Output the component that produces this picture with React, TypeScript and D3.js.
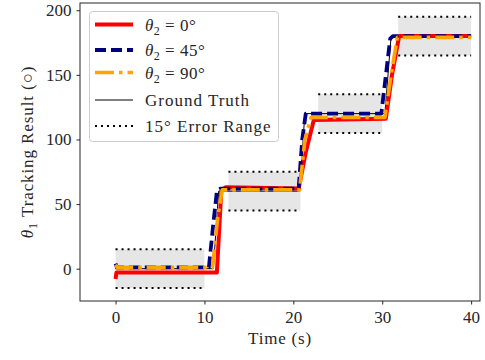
import React, { useEffect, useRef } from 'react';
import * as d3 from 'd3';

// time (s) and angle (deg) key points
const redT = [0, 0.1, 11.4, 11.9, 12.4, 20.6, 21.4, 22.3, 30.4, 31.1, 31.9, 40];
const redV = [-8, -3, -3, 61, 63, 62, 90, 115, 116, 150, 180, 180];

const blueT = [0, 0.15, 10.5, 11.0, 11.4, 11.8, 20.6, 21.0, 21.4, 29.9, 30.5, 30.9, 31.2, 40];
const blueV = [4, 1, 1, 35, 60, 62, 62, 100, 120, 120, 155, 178, 180, 180];

const orangeT = [0, 0.2, 10.9, 11.5, 12.0, 20.7, 21.3, 22.0, 30.3, 31.0, 31.7, 40];
const orangeV = [3, 1, 1, 40, 61, 61, 100, 117, 117, 150, 179, 179];

const truthT = [0, 11.0, 11.6, 20.7, 21.3, 30.3, 31.0, 40];
const truthV = [0, 0, 60, 60, 120, 120, 180, 180];

// 15 degree error bands
const bandStart = [0, 12.7, 22.8, 31.8];
const bandEnd = [10, 20.8, 30, 40];
const bandCenter = [0, 60, 120, 180];

const xTicks = [0, 10, 20, 30, 40];
const yTicks = [0, 50, 100, 150, 200];

const App = () => {
  const svgRef = useRef<SVGSVGElement>(null);

  useEffect(() => {
    const width = 485;
    const height = 360;
    const margin = { top: 3, right: 5, bottom: 59, left: 80 };
    const font = '"Liberation Serif", serif';
    const ink = '#262626';

    const svg = d3.select(svgRef.current)
      .attr('width', width)
      .attr('height', height);
    svg.selectAll('*').remove();

    const x = d3.scaleLinear().domain([-4, 41]).range([margin.left, width - margin.right]);
    const y = d3.scaleLinear().domain([-25, 205.6]).range([height - margin.bottom, margin.top]);

    const g = svg.append('g');

    // bands
    bandStart.forEach((s, i) => {
      const e = bandEnd[i];
      const c = bandCenter[i];
      g.append('rect')
        .attr('x', x(s)).attr('width', x(e) - x(s))
        .attr('y', y(c + 15)).attr('height', y(c - 15) - y(c + 15))
        .attr('fill', '#e6e6e6');
      [c + 15, c - 15].forEach(v => {
        g.append('line')
          .attr('x1', x(s)).attr('x2', x(e))
          .attr('y1', y(v)).attr('y2', y(v))
          .attr('stroke', '#000').attr('stroke-width', 2)
          .attr('stroke-dasharray', '2,4');
      });
    });

    const line = d3.line<number>();
    const path = (ts: number[], vs: number[]) =>
      line(ts.map((t, i) => [x(t), y(vs[i])]) as any);

    g.append('path').attr('d', path(truthT, truthV))
      .attr('fill', 'none').attr('stroke', '#000').attr('stroke-width', 1);
    g.append('path').attr('d', path(redT, redV))
      .attr('fill', 'none').attr('stroke', '#ff0000').attr('stroke-width', 4)
      .attr('stroke-linejoin', 'round');
    g.append('path').attr('d', path(blueT, blueV))
      .attr('fill', 'none').attr('stroke', '#000080').attr('stroke-width', 3.8)
      .attr('stroke-dasharray', '11,5').attr('stroke-linejoin', 'round');
    g.append('path').attr('d', path(orangeT, orangeV))
      .attr('fill', 'none').attr('stroke', '#ffa500').attr('stroke-width', 3.6)
      .attr('stroke-dasharray', '19,5,3.5,5').attr('stroke-linejoin', 'round');

    // frame
    svg.append('rect')
      .attr('x', margin.left).attr('y', margin.top)
      .attr('width', width - margin.left - margin.right)
      .attr('height', height - margin.top - margin.bottom)
      .attr('fill', 'none').attr('stroke', ink).attr('stroke-width', 1);

    const xAxis = svg.append('g')
      .attr('transform', `translate(0,${height - margin.bottom})`)
      .call(d3.axisBottom(x).tickValues(xTicks).tickSize(3.5).tickPadding(6));
    const yAxis = svg.append('g')
      .attr('transform', `translate(${margin.left},0)`)
      .call(d3.axisLeft(y).tickValues(yTicks).tickSize(3.5).tickPadding(5));
    [xAxis, yAxis].forEach(a => {
      a.select('.domain').remove();
      a.selectAll('line').attr('stroke', ink);
      a.selectAll('text').attr('font-family', font).attr('font-size', 17).attr('fill', ink);
    });

    svg.append('text')
      .attr('x', (margin.left + width - margin.right) / 2).attr('y', 344)
      .attr('text-anchor', 'middle').attr('font-family', font).attr('font-size', 17)
      .attr('letter-spacing', 0.8).attr('fill', ink)
      .text('Time (s)');

    const yl = svg.append('text')
      .attr('transform', `translate(33,${(margin.top + height - margin.bottom) / 2}) rotate(-90)`)
      .attr('text-anchor', 'middle').attr('font-family', font).attr('font-size', 17)
      .attr('letter-spacing', 0.9).attr('fill', ink);
    yl.append('tspan').attr('font-style', 'italic').text('θ');
    yl.append('tspan').attr('font-size', 12).attr('dy', 4).text('1');
    yl.append('tspan').attr('dy', -4).text(' Tracking Result (○)');

    // legend
    const leg = svg.append('g');
    leg.append('rect')
      .attr('x', 89.5).attr('y', 11.5).attr('width', 189).attr('height', 130)
      .attr('rx', 3).attr('fill', '#fff').attr('fill-opacity', 0.8)
      .attr('stroke', '#cccccc').attr('stroke-width', 1);
    const items = [
      { label: '0°', theta: true, stroke: '#ff0000', w: 4, dash: null },
      { label: '45°', theta: true, stroke: '#000080', w: 3.8, dash: '11,5' },
      { label: '90°', theta: true, stroke: '#ffa500', w: 3.6, dash: '19,5,3.5,5' },
      { label: 'Ground Truth', theta: false, stroke: '#000', w: 1, dash: null },
      { label: '15° Error Range', theta: false, stroke: '#000', w: 2, dash: '2,4' },
    ];
    const rowY = [24.5, 50, 72.5, 100, 126];
    items.forEach((it, i) => {
      const ly = rowY[i];
      leg.append('line')
        .attr('x1', 95).attr('x2', 133).attr('y1', ly).attr('y2', ly)
        .attr('stroke', it.stroke).attr('stroke-width', it.w)
        .attr('stroke-dasharray', it.dash);
      const t = leg.append('text')
        .attr('x', 145).attr('y', ly + 6)
        .attr('font-family', font).attr('font-size', 17).attr('fill', ink)
        .attr('letter-spacing', it.theta ? 0.5 : 1);
      if (it.theta) {
        t.append('tspan').attr('font-style', 'italic').text('θ');
        t.append('tspan').attr('font-size', 12).attr('dy', 4).text('2');
        t.append('tspan').attr('dy', -4).text(' = ' + it.label);
      } else {
        t.text(it.label);
      }
    });
  }, []);

  return (
    <svg ref={svgRef} style={{ position: 'absolute', left: 0, top: 0 }}></svg>
  );
};

export default App;
